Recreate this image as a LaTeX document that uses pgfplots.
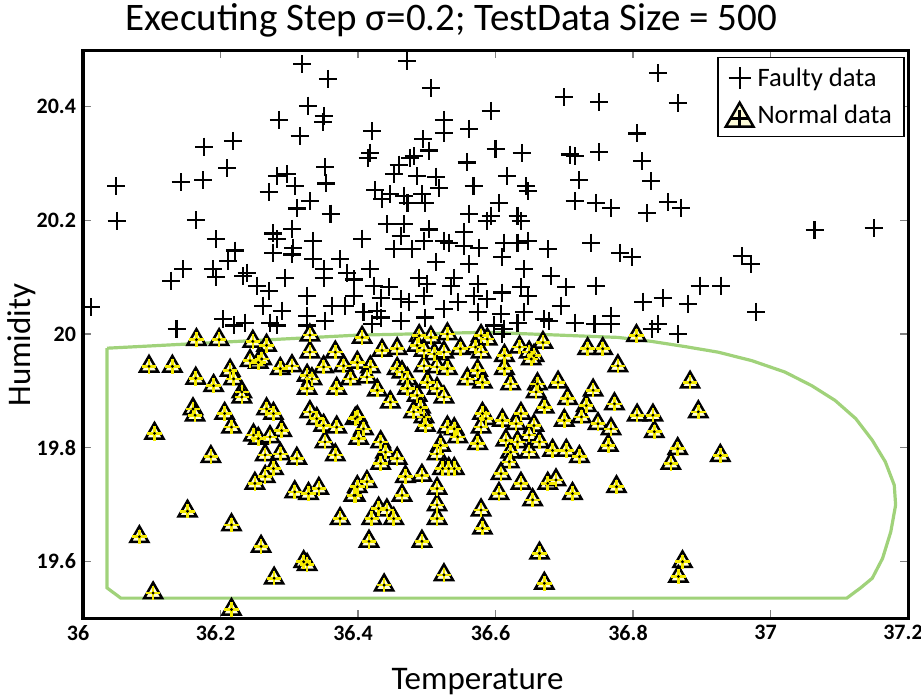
\documentclass[border=0pt]{standalone}
\usepackage{fontspec}
\setmainfont{Carlito}
\usepackage{pgfplots}
\usepackage{pgfplotstable}
\pgfplotsset{compat=1.18}
\definecolor{boundary}{RGB}{160,210,122}
\definecolor{markyellow}{RGB}{245,235,0}

% faulty samples (outside the learned region)
\pgfplotstableread{
x y
36.319 20.475
36.356 20.449
36.327 20.402
36.350 20.384
36.349 20.374
36.285 20.377
36.315 20.348
36.176 20.330
36.218 20.340
36.210 20.292
36.048 20.260
36.142 20.267
36.175 20.271
36.352 20.294
36.282 20.278
36.297 20.281
36.308 20.260
36.270 20.250
36.354 20.265
36.330 20.234
36.311 20.221
36.360 20.212
36.049 20.199
36.164 20.200
36.193 20.167
36.221 20.147
36.277 20.177
36.304 20.185
36.282 20.167
36.306 20.152
36.335 20.164
36.277 20.143
36.304 20.140
36.211 20.129
36.146 20.114
36.128 20.094
36.189 20.114
36.194 20.101
36.238 20.108
36.253 20.085
36.233 20.102
36.294 20.099
36.271 20.076
36.326 20.067
36.335 20.132
36.350 20.114
36.374 20.132
36.350 20.099
36.384 20.108
36.394 20.096
36.394 20.067
36.381 20.050
36.362 20.050
36.262 20.050
36.289 20.041
36.326 20.032
36.012 20.047
36.204 20.026
36.219 20.015
36.235 20.020
36.272 20.020
36.282 20.015
36.326 20.015
36.352 20.023
36.136 20.009
36.471 20.480
36.506 20.433
36.593 20.393
36.525 20.377
36.525 20.354
36.562 20.361
36.420 20.357
36.495 20.343
36.503 20.323
36.418 20.319
36.414 20.310
36.481 20.313
36.459 20.298
36.476 20.310
36.600 20.326
36.638 20.319
36.558 20.302
36.700 20.417
36.751 20.408
36.708 20.316
36.715 20.313
36.751 20.320
36.452 20.281
36.486 20.278
36.513 20.277
36.518 20.257
36.568 20.260
36.617 20.278
36.644 20.260
36.647 20.251
36.722 20.271
36.425 20.253
36.435 20.237
36.447 20.246
36.467 20.243
36.472 20.231
36.493 20.246
36.498 20.231
36.715 20.234
36.746 20.231
36.768 20.222
36.605 20.231
36.593 20.208
36.562 20.212
36.588 20.199
36.632 20.208
36.637 20.199
36.442 20.193
36.467 20.193
36.503 20.184
36.406 20.168
36.462 20.172
36.496 20.164
36.525 20.164
36.532 20.161
36.554 20.179
36.554 20.155
36.452 20.149
36.479 20.149
36.576 20.152
36.613 20.161
36.610 20.135
36.632 20.161
36.647 20.164
36.676 20.149
36.739 20.161
36.781 20.143
36.418 20.114
36.513 20.126
36.562 20.123
36.642 20.114
36.681 20.102
36.489 20.099
36.501 20.088
36.540 20.099
36.535 20.085
36.574 20.088
36.610 20.073
36.637 20.082
36.647 20.067
36.703 20.082
36.746 20.085
36.423 20.085
36.445 20.082
36.433 20.064
36.462 20.061
36.474 20.056
36.496 20.067
36.569 20.067
36.588 20.061
36.525 20.044
36.545 20.056
36.695 20.050
36.408 20.038
36.428 20.041
36.433 20.029
36.462 20.023
36.498 20.029
36.574 20.038
36.608 20.035
36.642 20.038
36.671 20.026
36.678 20.023
36.715 20.020
36.744 20.018
36.768 20.032
36.768 20.018
36.598 20.015
36.613 20.009
36.632 20.020
36.420 20.018
36.610 20.000
36.836 20.459
36.865 20.406
36.806 20.353
36.813 20.304
36.826 20.269
36.851 20.232
36.870 20.222
36.821 20.213
37.064 20.183
37.150 20.187
36.798 20.135
36.958 20.137
36.972 20.123
36.897 20.085
36.928 20.085
36.815 20.057
36.843 20.063
36.880 20.053
36.979 20.039
36.836 20.018
36.827 20.009
36.866 20.000
}\faulty

% normal samples (inside the learned region)
\pgfplotstableread{
x y
36.165 19.990
36.198 19.990
36.247 19.987
36.267 19.980
36.330 19.998
36.096 19.943
36.130 19.943
36.164 19.922
36.190 19.909
36.214 19.936
36.219 19.921
36.243 19.953
36.255 19.950
36.260 19.956
36.287 19.939
36.304 19.944
36.330 19.968
36.231 19.898
36.231 19.889
36.326 19.927
36.333 19.921
36.326 19.904
36.350 19.942
36.367 19.968
36.369 19.904
36.379 19.944
36.389 19.921
36.160 19.868
36.163 19.857
36.206 19.860
36.216 19.836
36.104 19.825
36.267 19.868
36.277 19.860
36.289 19.830
36.330 19.863
36.340 19.851
36.350 19.839
36.369 19.836
36.352 19.810
36.396 19.851
36.248 19.822
36.255 19.816
36.272 19.819
36.265 19.787
36.287 19.789
36.311 19.781
36.367 19.787
36.186 19.784
36.277 19.763
36.265 19.749
36.250 19.737
36.308 19.722
36.328 19.719
36.343 19.728
36.396 19.716
36.152 19.688
36.216 19.664
36.374 19.675
36.082 19.643
36.259 19.626
36.321 19.599
36.326 19.594
36.278 19.570
36.102 19.544
36.216 19.515
36.406 19.994
36.489 19.997
36.506 19.994
36.530 20.000
36.579 19.997
36.588 19.991
36.669 19.985
36.734 19.974
36.756 19.974
36.778 19.944
36.435 19.971
36.457 19.974
36.486 19.980
36.496 19.971
36.511 19.965
36.525 19.968
36.549 19.974
36.571 19.977
36.579 19.968
36.613 19.962
36.635 19.977
36.649 19.968
36.656 19.962
36.652 19.956
36.399 19.950
36.418 19.942
36.413 19.924
36.457 19.939
36.464 19.933
36.472 19.921
36.496 19.944
36.515 19.942
36.530 19.939
36.559 19.921
36.574 19.936
36.581 19.915
36.613 19.939
36.622 19.912
36.661 19.912
36.659 19.898
36.691 19.915
36.742 19.901
36.705 19.886
36.671 19.871
36.732 19.874
36.725 19.854
36.773 19.877
36.700 19.848
36.749 19.842
36.768 19.833
36.764 19.804
36.428 19.901
36.447 19.880
36.472 19.904
36.486 19.892
36.501 19.915
36.515 19.904
36.525 19.889
36.491 19.871
36.496 19.854
36.481 19.863
36.399 19.854
36.408 19.833
36.401 19.816
36.433 19.810
36.440 19.792
36.457 19.781
36.433 19.772
36.498 19.839
36.530 19.836
36.540 19.833
36.545 19.819
36.520 19.804
36.515 19.789
36.523 19.763
36.540 19.763
36.581 19.860
36.586 19.851
36.579 19.836
36.610 19.848
36.637 19.860
36.630 19.842
36.656 19.839
36.649 19.822
36.615 19.813
36.632 19.810
36.649 19.792
36.622 19.792
36.620 19.775
36.608 19.754
36.605 19.719
36.574 19.807
36.664 19.810
36.683 19.795
36.703 19.795
36.722 19.784
36.637 19.737
36.676 19.737
36.688 19.743
36.654 19.708
36.712 19.719
36.776 19.731
36.413 19.740
36.399 19.731
36.394 19.716
36.469 19.749
36.493 19.751
36.464 19.716
36.515 19.728
36.515 19.699
36.515 19.675
36.532 19.763
36.430 19.693
36.442 19.690
36.452 19.675
36.420 19.675
36.579 19.690
36.581 19.658
36.416 19.635
36.493 19.635
36.664 19.614
36.525 19.576
36.438 19.558
36.671 19.561
36.805 19.997
36.883 19.915
36.806 19.857
36.829 19.857
36.895 19.863
36.831 19.828
36.865 19.798
36.855 19.772
36.927 19.786
36.872 19.599
36.866 19.573
}\normal

\begin{document}
\begin{tikzpicture}
\begin{axis}[
  width=412.5pt, height=284pt, scale only axis,
  xmin=36, xmax=37.2, ymin=19.5, ymax=20.5,
  xtick={36,36.2,36.4,36.6,36.8,37,37.2},
  ytick={19.6,19.8,20,20.2,20.4},
  /pgf/number format/assume math mode=true,
  ticklabel style={font=\fontsize{11}{13}\selectfont\bfseries},
  xticklabel style={xshift=-2.5pt},
  tick align=inside,
  major tick length=4pt,
  tick style={gray, line width=0.6pt},
  axis line style={line width=1.5pt},
  title={Executing Step σ=0.2; TestData Size = 500},
  title style={font=\fontsize{19.5}{22}\selectfont, yshift=-3pt, xshift=-22pt},
  xlabel={Temperature},
  ylabel={Humidity},
  label style={font=\fontsize{16.5}{19}\selectfont},
  xlabel style={yshift=-7pt, xshift=-9pt},
  ylabel style={yshift=-6.6pt, xshift=-5.5pt},
  legend style={at={(0.996,0.988)}, anchor=north east, draw=black,
    line width=0.8pt, font=\fontsize{13.3}{16}\selectfont,
    row sep=4pt, inner xsep=4pt, inner ysep=3pt},
  legend cell align=left,
]
\addplot[only marks, mark=+, mark size=4.5pt, black,
  mark options={line width=1.05pt},
  legend image code/.code={
    \draw[black, line width=1.6pt]
      plot[only marks, mark=+, mark size=5.5pt] coordinates {(0.35cm,0cm)};
  }] table {\faulty};
\addlegendentry{Faulty data}

\addplot[boundary, line width=1.6pt, forget plot] coordinates {
  (36.035,19.975) (36.399,19.998) (36.588,20.003) (36.778,19.994)
  (36.827,19.987) (36.875,19.978) (36.924,19.968) (36.973,19.953)
  (37.021,19.933) (37.060,19.909) (37.094,19.883) (37.124,19.851)
  (37.148,19.813) (37.167,19.775) (37.180,19.734) (37.182,19.699)
  (37.175,19.652) (37.163,19.605) (37.148,19.570) (37.131,19.553)
  (37.111,19.535) (36.055,19.535) (36.035,19.553) (36.035,19.975)};

\addplot[only marks, mark=triangle*, mark size=5.2pt,
  mark options={draw=black, fill=markyellow!15, line width=1.25pt},
  legend image code/.code={
    \draw[black, line width=1.6pt, fill=markyellow!15]
      plot[only marks, mark=triangle*, mark size=8pt] coordinates {(0.35cm,-0.05cm)};
    \draw[markyellow, line width=1.8pt]
      plot[only marks, mark=+, mark size=4.5pt] coordinates {(0.35cm,-0.05cm)};
  }] table {\normal};
\addlegendentry{Normal data}
\addplot[only marks, mark=+, mark size=3.6pt, markyellow,
  mark options={line width=1.3pt}, forget plot] table {\normal};
\addplot[only marks, mark=*, mark size=0.5pt, black, forget plot] table {\normal};
\end{axis}
\pgfresetboundingbox
\path[use as bounding box] ([shift={(-41.5pt,-40pt)}]current axis.south west)
  rectangle ([shift={(6.5pt,25pt)}]current axis.north east);
\end{tikzpicture}
\end{document}
